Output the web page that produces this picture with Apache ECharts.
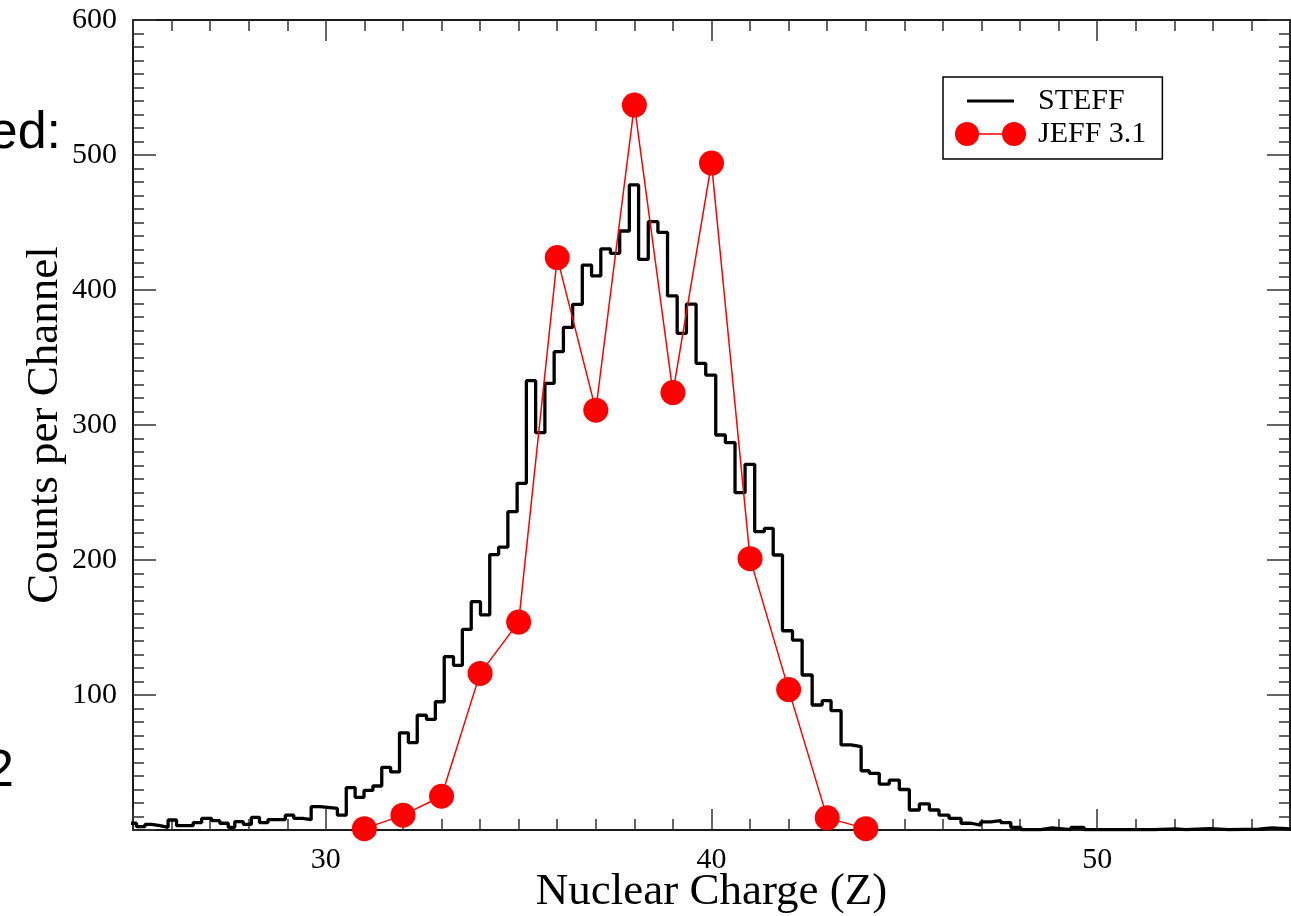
<!DOCTYPE html>
<html>
<head>
<meta charset="utf-8">
<script src="https://cdn.jsdelivr.net/npm/echarts@6/dist/echarts.min.js"></script>
<style>
  html, body { margin: 0; padding: 0; background: #fff; }
  #chart { width: 1291px; height: 916px; }
</style>
</head>
<body>
<div id="chart"></div>
<script>
// STEFF histogram: left edge of each step (Z) and the count of that step.
// steffZ has one extra entry, the right end of the last step.
const steffZ = [
  24.92, 25.09, 25.31, 25.48, 25.70, 25.91, 26.13, 26.56, 26.78, 27.04,
  27.25, 27.47, 27.64, 27.86, 28.07, 28.28, 28.50, 28.95, 29.17, 29.40,
  29.62, 29.85, 30.30, 30.53, 30.76, 30.99, 31.22, 31.45, 31.68, 31.91,
  32.14, 32.37, 32.61, 32.84, 33.07, 33.31, 33.54, 33.77, 34.01, 34.25,
  34.48, 34.72, 34.96, 35.20, 35.44, 35.68, 35.92, 36.16, 36.40, 36.65,
  36.89, 37.13, 37.38, 37.62, 37.87, 38.11, 38.36, 38.61, 38.86, 39.11,
  39.35, 39.60, 39.85, 40.11, 40.36, 40.61, 40.87, 41.12, 41.37, 41.60,
  41.84, 42.10, 42.35, 42.61, 42.87, 43.10, 43.36, 43.62, 43.88, 44.09,
  44.35, 44.61, 44.87, 45.13, 45.39, 45.65, 45.90, 46.16, 46.47, 46.73,
  46.98, 47.24, 47.50, 47.76, 48.02, 48.54, 48.83, 49.32, 49.66, 51.47,
  52.04, 52.30, 52.90, 53.42, 54.19, 54.53, 55.30
];
const steffCounts = [
  5, 2.5, 4.2, 3.2, 2, 7.4, 3.2, 5.4, 8.6, 6.9,
  5, 2, 6.2, 4.2, 9.4, 5.5, 7.7, 11, 8.6, 7.6,
  17.3, 16, 11, 31.4, 24.2, 29.3, 32.6, 46.4, 43, 72,
  64.7, 85, 82, 95, 128.4, 122, 148.6, 169.1, 159.3, 204,
  209.5, 235.8, 256.8, 332.8, 294.3, 330.9, 354.3, 372.3, 389.4, 418.5,
  410.4, 430.4, 427.2, 443.7, 477.8, 422.7, 450.6, 442.7, 395.6, 367.9,
  389.6, 345.7, 337, 292.6, 286.9, 249.9, 270.9, 221, 223.4, 203.7,
  147.6, 140.7, 114.8, 92.6, 95.8, 88.4, 63, 61.7, 43.9, 42,
  34, 37, 30, 14.8, 19.3, 14.8, 11, 8.6, 5, 3.7,
  6, 7, 5.5, 2, 0.3, 1.5, 0.3, 2, 0.3, 0.8,
  0.3, 1, 0.3, 0.6, 1.5, 0.5
];

// JEFF 3.1 yields per element
const jeffZ = [31, 32, 33, 34, 35, 36, 37, 38, 39, 40, 41, 42, 43, 44];
const jeffCounts = [1, 11, 25, 116, 154, 424, 311, 537, 324, 494, 201, 104, 9, 1];

const xLabels = [30, 40, 50];
const yLabels = [100, 200, 300, 400, 500, 600];

const serif = '"Liberation Serif", "Times New Roman", serif';

const steffData = steffCounts.map((c, i) => [steffZ[i], c]);
steffData.push([steffZ[steffZ.length - 1], steffCounts[steffCounts.length - 1]]);
const jeffData = jeffZ.map((z, i) => [z, jeffCounts[i]]);

// legend icons, drawn in a 78x24 box (tiny corner triangles fix the box size)
const box = 'M0,0 L0.01,0 L0,0.01 Z M78,24 L77.99,24 L78,23.99 Z ';
const steffIcon = 'path://' + box + 'M12,10.4 L59,10.4 L59,13.6 L12,13.6 Z';
const jeffIcon = 'path://' + box +
  'M0,12 A12,12 0 1,1 24,12 A12,12 0 1,1 0,12 Z ' +
  'M47,12 A12,12 0 1,1 71,12 A12,12 0 1,1 47,12 Z ' +
  'M23,11.25 L48,11.25 L48,12.75 L23,12.75 Z';

const frameColor = '#1a1a1a';

function xAxis(position, showLabels) {
  return {
    type: 'value',
    position: position,
    min: 25,
    max: 55,
    splitNumber: 3,
    minInterval: 10,
    maxInterval: 10,
    name: showLabels ? 'Nuclear Charge (Z)' : '',
    nameLocation: 'middle',
    nameGap: 40,
    nameMoveOverlap: false,
    nameTextStyle: { fontFamily: serif, fontSize: 45, color: '#000' },
    axisLine: { show: true, onZero: false, lineStyle: { color: frameColor, width: 2 } },
    axisTick: { show: true, inside: true, length: 21, lineStyle: { color: '#333', width: 1.5 } },
    minorTick: { show: true, splitNumber: 10, length: 11, lineStyle: { color: '#333', width: 1.5 } },
    axisLabel: {
      show: showLabels,
      margin: 15,
      fontFamily: serif,
      fontSize: 30,
      color: '#000',
      formatter: v => (xLabels.includes(v) ? String(v) : '')
    },
    splitLine: { show: false }
  };
}

function yAxis(position, showLabels) {
  return {
    type: 'value',
    position: position,
    min: 0,
    max: 600,
    interval: 100,
    name: showLabels ? 'Counts per Channel' : '',
    nameLocation: 'middle',
    nameGap: 65,
    nameMoveOverlap: false,
    nameTextStyle: { fontFamily: serif, fontSize: 45, color: '#000' },
    axisLine: { show: true, onZero: false, lineStyle: { color: frameColor, width: 2 } },
    axisTick: { show: true, inside: true, length: 23, lineStyle: { color: '#333', width: 1.5 } },
    minorTick: { show: true, splitNumber: 10, length: 11, lineStyle: { color: '#333', width: 1.5 } },
    axisLabel: {
      show: showLabels,
      margin: 16,
      fontFamily: serif,
      fontSize: 30,
      color: '#000',
      formatter: v => (yLabels.includes(v) ? String(v) : '')
    },
    splitLine: { show: false }
  };
}

const chart = echarts.init(document.getElementById('chart'));
chart.setOption({
  animation: false,
  backgroundColor: '#fff',
  grid: { left: 133, right: 1, top: 20, bottom: 86, containLabel: false, outerBoundsMode: 'none' },
  xAxis: [xAxis('bottom', true), xAxis('top', false)],
  yAxis: [yAxis('left', true), yAxis('right', false)],
  legend: {
    orient: 'vertical',
    left: 943,
    top: 77,
    padding: [9, 16, 10, 12],
    itemGap: 3,
    itemWidth: 78,
    itemHeight: 24,
    borderColor: '#000',
    borderWidth: 1.5,
    itemStyle: { borderWidth: 0 },
    textStyle: { fontFamily: serif, fontSize: 30, color: '#000', lineHeight: 24 },
    data: [
      { name: 'STEFF', icon: steffIcon },
      { name: 'JEFF 3.1', icon: jeffIcon }
    ]
  },
  graphic: [
    { type: 'text', x: 61, y: 134,
      style: { text: 'ed:', font: '52px "Liberation Sans", Arial, sans-serif', fill: '#000', align: 'right', verticalAlign: 'middle' } },
    { type: 'text', x: 14, y: 772,
      style: { text: '2', font: '52px "Liberation Sans", Arial, sans-serif', fill: '#000', align: 'right', verticalAlign: 'middle' } }
  ],
  series: [
    {
      name: 'STEFF',
      type: 'line',
      step: 'end',
      data: steffData,
      showSymbol: false,
      symbol: 'none',
      color: '#000',
      lineStyle: { color: '#000', width: 3.3 },
      z: 2
    },
    {
      name: 'JEFF 3.1',
      type: 'line',
      data: jeffData,
      symbol: 'circle',
      symbolSize: 25,
      color: '#ff0000',
      itemStyle: { color: '#ff0000' },
      lineStyle: { color: '#ff0000', width: 1.5 },
      z: 3
    }
  ]
});
</script>
</body>
</html>
